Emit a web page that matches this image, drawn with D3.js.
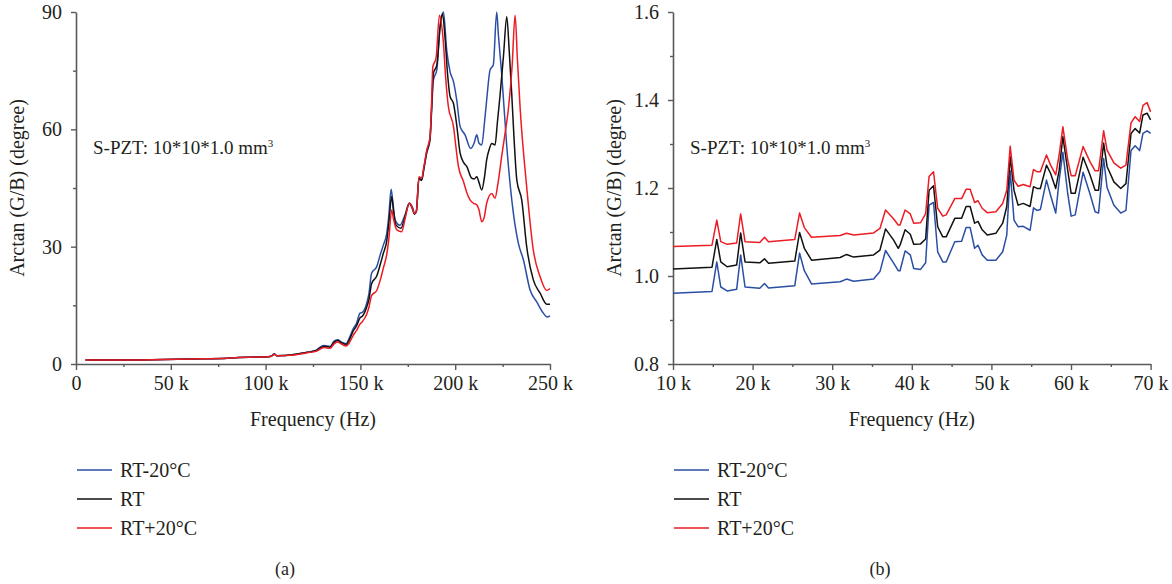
<!DOCTYPE html>
<html>
<head>
<meta charset="utf-8">
<script src="https://cdn.jsdelivr.net/npm/d3@7"></script>
<style>
  html, body { margin: 0; padding: 0; background: #fff; }
  svg { display: block; }
  text { font-family: "Liberation Serif", "DejaVu Serif", serif; fill: #231f20; }
</style>
</head>
<body>
<svg id="chart" width="1172" height="584"></svg>
<script>
// ---- Series names and colours ----
const seriesNames = ["RT-20°C", "RT", "RT+20°C"];
const seriesColors = ["#2b4ea5", "#111111", "#ec1c24"];

// ---- Panel (a): wide sweep, frequency in kHz, arctan(G/B) in degrees ----
const wideCold = [[5,1.0],[20,1.0],[40,1.1],[60,1.3],[80,1.5],[95,1.8],[100,1.8],[103,2.0],[104.5,2.6],[106,2.1],[115,2.4],[122,3.0],[125,3.3],[127,3.6],[129,4.4],[131,4.7],[134,4.5],[136,5.8],[138,6.2],[140,5.6],[142.5,5.2],[144,6.5],[146.3,9.1],[148,10.5],[149.8,13.0],[151,13.2],[153.3,15.5],[154.5,18.0],[155.9,23.2],[158.6,24.9],[160.5,28.0],[162.1,30.4],[163.9,33.4],[165,38.0],[166.2,44.7],[167.2,41.0],[168.3,36.8],[170.9,35.5],[173.5,38.1],[175.8,41.1],[177.5,40.0],[178.5,38.5],[179.5,39.0],[180.9,47.5],[182.3,47.0],[183.5,50.0],[185,53.9],[186.7,57.3],[187.5,64.0],[188.5,72.6],[190.3,75.2],[192,86.3],[193.8,90.0],[195.5,80.3],[197.3,74.7],[199.1,72.2],[200.8,67.5],[202.6,60.7],[205.2,58.6],[208.2,55.1],[210,56.5],[211.4,58.6],[212.5,56.5],[214,56.0],[215.5,62.0],[216.6,67.5],[218.4,75.2],[220.1,76.5],[221.9,90.0],[222.8,84.0],[224.5,74.3],[227.2,55.6],[230.7,38.5],[233.3,30.9],[236,26.6],[239.5,18.9],[243,15.9],[246.5,13.0],[248.5,12.0],[250,12.3]];
const wideRoom = [[5,1.0],[20,1.0],[40,1.1],[60,1.3],[80,1.5],[95,1.8],[100,1.8],[103,2.0],[104.5,2.5],[106,2.1],[115,2.4],[122,3.0],[125,3.2],[127,3.5],[129,4.2],[131,4.5],[134,4.3],[136,5.5],[138,6.0],[140,5.4],[142.5,5.0],[144,6.0],[146.3,8.5],[148,9.8],[149.8,11.8],[151,12.2],[153.3,14.5],[154.5,16.5],[155.9,20.5],[158.6,22.5],[160.5,25.5],[162.1,28.3],[163.9,31.5],[165,36.0],[166.5,42.8],[167.5,39.0],[168.8,35.5],[171.4,34.7],[173.5,37.6],[175.8,41.1],[177.5,39.6],[178.5,38.3],[179.5,39.0],[180.9,47.5],[182.3,47.0],[183.5,50.0],[185,54.3],[186.7,57.5],[187.5,65.0],[188.5,74.3],[190.3,76.4],[192,86.0],[193.3,89.5],[194.6,83.7],[196,74.0],[197.3,68.4],[199.1,66.6],[200.8,61.1],[202.6,53.9],[204.5,51.5],[206.1,50.5],[208.7,47.5],[210,47.3],[211.4,47.9],[212.5,46.5],[214,44.5],[215.5,48.0],[216.6,52.2],[218,55.0],[219.3,56.4],[221,56.0],[222.3,62.0],[223.6,68.4],[225.5,79.0],[227.2,88.8],[228.5,80.0],[229.8,69.2],[231,58.0],[232.5,47.0],[235.1,41.9],[237.7,30.0],[241.2,21.5],[244.8,18.1],[248.3,15.3],[250,15.3]];
const wideHot = [[5,1.0],[20,1.0],[40,1.1],[60,1.3],[80,1.5],[95,1.8],[100,1.8],[103,2.0],[104.5,2.5],[106,2.1],[115,2.3],[122,2.9],[125,3.1],[127,3.3],[129,3.9],[131,4.2],[134,4.0],[136,5.1],[138,5.6],[140,5.1],[142.5,4.6],[144,5.3],[146.3,7.4],[148,8.6],[149.8,10.2],[151,10.8],[153.3,12.7],[154.5,14.5],[155.9,17.5],[158.6,18.8],[160.5,21.5],[162.1,24.5],[163.9,28.0],[165,32.0],[166.5,39.4],[167.5,37.0],[169.2,34.3],[171.8,33.8],[173.5,37.0],[175.8,41.1],[177.5,39.8],[178.5,38.5],[179.5,39.0],[180.9,47.9],[182.3,47.5],[183.5,50.5],[185,54.7],[186.7,58.0],[187.5,66.0],[188.2,76.0],[189.9,78.2],[191.7,89.2],[193.8,82.0],[195,73.0],[196.4,65.8],[199.1,60.7],[200.5,55.0],[201.7,50.5],[204.4,46.6],[206,44.0],[207.9,41.9],[210,41.0],[211.4,40.7],[212.5,39.5],[214,36.4],[215.3,37.5],[216.6,41.1],[219.3,43.6],[221,42.4],[222.5,46.0],[224.5,53.0],[226,58.0],[228,65.0],[230,76.0],[231.6,89.2],[232.8,78.0],[234.2,65.8],[237.7,45.3],[241.2,29.1],[244.8,22.3],[248.3,18.8],[250,19.3]];

// ---- Panel (b): low band, frequency in kHz ----
const bandFreq = [10,14.9,15.5,16.0,16.8,18.0,18.5,19.05,20.9,21.5,22.0,25.3,25.9,26.5,27.4,31.0,31.8,32.7,35.2,36.0,36.7,37.7,38.3,
  38.52,39.16,39.81,40.24,41.1,41.74,42.17,42.73,43.25,43.89,44.32,45.4,46.26,46.82,47.33,47.89,48.32,48.84,49.48,50.56,51.42,51.93,52.36,52.84,53.35,54.0,54.86,55.29,55.72,56.15,56.92,57.44,58.08,58.51,58.98,59.59,60.02,60.53,61.52,62.38,63.03,63.46,64.1,64.53,65.39,66.25,66.9,67.54,68.06,68.62,69.04,69.56,70];
const bandCold = [0.961,0.965,1.032,0.975,0.966,0.970,1.048,0.975,0.972,0.983,0.973,0.978,1.052,1.012,0.982,0.987,0.993,0.988,0.993,1.010,1.058,1.030,1.012,
  1.012,1.057,1.048,1.017,1.015,1.030,1.161,1.167,1.055,1.032,1.032,1.078,1.079,1.110,1.110,1.063,1.070,1.048,1.036,1.036,1.055,1.093,1.239,1.127,1.112,1.113,1.104,1.155,1.149,1.151,1.218,1.183,1.143,1.217,1.281,1.187,1.136,1.139,1.236,1.187,1.146,1.143,1.267,1.201,1.161,1.143,1.149,1.285,1.296,1.285,1.324,1.330,1.324];
const bandRoom = [1.016,1.020,1.083,1.032,1.021,1.025,1.098,1.032,1.030,1.039,1.029,1.034,1.099,1.063,1.036,1.042,1.049,1.043,1.048,1.059,1.107,1.082,1.063,
  1.070,1.105,1.095,1.072,1.073,1.084,1.195,1.205,1.112,1.089,1.089,1.131,1.131,1.158,1.158,1.120,1.124,1.105,1.093,1.097,1.120,1.158,1.271,1.195,1.161,1.165,1.158,1.203,1.199,1.199,1.252,1.233,1.199,1.240,1.317,1.240,1.188,1.188,1.270,1.230,1.195,1.195,1.302,1.249,1.214,1.199,1.210,1.324,1.335,1.325,1.366,1.370,1.355];
const bandHot = [1.067,1.070,1.127,1.078,1.072,1.075,1.141,1.078,1.076,1.088,1.078,1.083,1.143,1.110,1.088,1.092,1.097,1.093,1.098,1.108,1.150,1.130,1.116,
  1.116,1.150,1.141,1.120,1.121,1.142,1.226,1.237,1.154,1.136,1.139,1.176,1.176,1.197,1.197,1.167,1.171,1.154,1.144,1.146,1.165,1.195,1.295,1.218,1.204,1.208,1.203,1.242,1.237,1.237,1.275,1.252,1.230,1.275,1.339,1.264,1.228,1.228,1.294,1.260,1.239,1.239,1.330,1.286,1.257,1.245,1.252,1.348,1.362,1.351,1.388,1.394,1.373];

// ---- Axis ticks ----
const wideXTicks = [0, 50, 100, 150, 200, 250];
const wideYTicks = [0, 30, 60, 90];
const bandXTicks = [10, 20, 30, 40, 50, 60, 70];
const bandYTicks = [0.8, 1.0, 1.2, 1.4, 1.6];

const noteText = "S-PZT: 10*10*1.0 mm";
const xTitle = "Frequency (Hz)";
const yTitle = "Arctan (G/B) (degree)";

const svg = d3.select("#chart");
const axisColor = "#58595b";
const serif = "Liberation Serif, DejaVu Serif, serif";

function kLabel(d) { return d === 0 ? "0" : d + " k"; }

function drawPanel(cfg) {
  const g = svg.append("g").attr("font-family", serif);
  const x = d3.scaleLinear().domain(cfg.xDomain).range([cfg.left, cfg.right]);
  const y = d3.scaleLinear().domain(cfg.yDomain).range([cfg.bottom, cfg.top]);

  // minor ticks (no labels)
  const xMinor = g.append("g").attr("transform", `translate(0,${cfg.bottom})`)
    .call(d3.axisBottom(x).tickValues(cfg.xMinor).tickSize(3).tickFormat(""));
  const yMinor = g.append("g").attr("transform", `translate(${cfg.left},0)`)
    .call(d3.axisLeft(y).tickValues(cfg.yMinor).tickSize(3).tickFormat(""));

  const xAxis = g.append("g").attr("transform", `translate(0,${cfg.bottom})`)
    .call(d3.axisBottom(x).tickValues(cfg.xTicks).tickSize(6).tickSizeOuter(0).tickPadding(6).tickFormat(kLabel));
  const yAxis = g.append("g").attr("transform", `translate(${cfg.left},0)`)
    .call(d3.axisLeft(y).tickValues(cfg.yTicks).tickSize(5).tickSizeOuter(0).tickPadding(9).tickFormat(cfg.yFormat));

  [xMinor, yMinor, xAxis, yAxis].forEach(a => {
    a.attr("font-family", serif);
    a.selectAll("path").attr("stroke", axisColor).attr("stroke-width", 1.6);
    a.selectAll("line").attr("stroke", axisColor).attr("stroke-width", 1.4);
    a.selectAll("text").attr("font-size", 20).attr("fill", "#231f20").attr("font-family", serif);
  });
  xMinor.select("path").remove();
  yMinor.select("path").remove();

  // data lines, clipped to plot area
  const clipId = "clip-" + cfg.id;
  svg.append("clipPath").attr("id", clipId).append("rect")
    .attr("x", cfg.left).attr("y", cfg.top - 1)
    .attr("width", cfg.right - cfg.left + 1).attr("height", cfg.bottom - cfg.top + 1);
  const lines = g.append("g").attr("clip-path", `url(#${clipId})`);
  cfg.series.forEach((s, i) => {
    const line = d3.line().x(d => x(d[0])).y(d => y(d[1])).curve(cfg.curve);
    lines.append("path").datum(s)
      .attr("fill", "none").attr("stroke", seriesColors[i])
      .attr("stroke-width", 1.5).attr("stroke-linejoin", "round")
      .attr("d", line);
  });

  // annotation
  const note = g.append("text").attr("x", cfg.left + 17).attr("y", 154).attr("font-size", 19);
  note.append("tspan").text(noteText);
  note.append("tspan").attr("dy", -7).attr("font-size", 11).text("3");

  // axis titles
  g.append("text").attr("x", (cfg.left + cfg.right) / 2).attr("y", 426)
    .attr("text-anchor", "middle").attr("font-size", 20).text(xTitle);
  g.append("text").attr("transform", `translate(${cfg.left - 52},${(cfg.top + cfg.bottom) / 2}) rotate(-90)`)
    .attr("text-anchor", "middle").attr("font-size", 20).text(yTitle);

  // legend
  seriesNames.forEach((name, i) => {
    const ly = 470 + i * 29;
    g.append("line").attr("x1", cfg.left + 1).attr("x2", cfg.left + 36)
      .attr("y1", ly).attr("y2", ly).attr("stroke", seriesColors[i]).attr("stroke-width", 1.4);
    g.append("text").attr("x", cfg.left + 44).attr("y", ly).attr("dy", "0.35em")
      .attr("font-size", 20).text(name);
  });

  // caption
  g.append("text").attr("x", cfg.caption).attr("y", 575)
    .attr("text-anchor", "middle").attr("font-size", 18).text(cfg.label);
}

drawPanel({
  id: "a", left: 76, right: 550, top: 12, bottom: 364,
  xDomain: [0, 250], yDomain: [0, 90],
  xTicks: wideXTicks, yTicks: wideYTicks,
  xMinor: [25, 75, 125, 175, 225], yMinor: [15, 45, 75],
  yFormat: d => d,
  series: [wideCold, wideRoom, wideHot],
  curve: d3.curveMonotoneX,
  caption: 285, label: "(a)"
});

const bandSeries = [bandCold, bandRoom, bandHot].map(vals => bandFreq.map((f, i) => [f, vals[i]]));
drawPanel({
  id: "b", left: 673, right: 1150.6, top: 12, bottom: 364,
  xDomain: [10, 70], yDomain: [0.8, 1.6],
  xTicks: bandXTicks, yTicks: bandYTicks,
  xMinor: [15, 25, 35, 45, 55, 65], yMinor: [0.9, 1.1, 1.3, 1.5],
  yFormat: d3.format(".1f"),
  series: bandSeries,
  curve: d3.curveLinear,
  caption: 880, label: "(b)"
});
</script>
</body>
</html>
